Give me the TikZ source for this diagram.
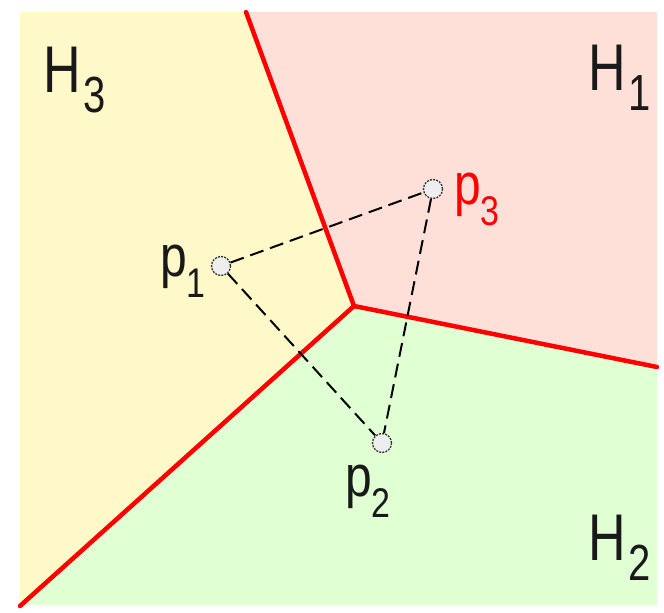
\documentclass[tikz,border=0pt]{standalone}
\usepackage{fontspec}
\setmainfont{Liberation Sans}
\usepackage{graphicx}
\definecolor{yel}{HTML}{FFF8C8}
\definecolor{pnk}{HTML}{FFE0D8}
\definecolor{grn}{HTML}{E0FFD2}
\definecolor{ptfill}{HTML}{EEEEEE}
\newcommand{\Hlab}[1]{\scalebox{1}[1.27]{\fontsize{52}{52}\selectfont H\kern3pt\raisebox{-16.5pt}{\fontsize{40}{40}\selectfont #1}}}
\newcommand{\plab}[1]{\scalebox{1}[1.22]{\fontsize{48}{48}\selectfont p\raisebox{-18pt}{\fontsize{34}{34}\selectfont #1}}}
\begin{document}
\begin{tikzpicture}[x=1pt,y=-1pt,
  bisector/.style={draw=red,line width=4.5pt,line cap=round},
  tri/.style={draw=black,line width=2pt,dash pattern=on 14pt off 7pt},
  pt/.style={circle,draw=black!80,dash pattern=on 2pt off 1.2pt,line width=1.3pt,fill=ptfill,minimum size=19pt,inner sep=0pt},
  lab/.style={anchor=base west,inner sep=0pt,text=black!90}]
\useasboundingbox (0,0) rectangle (664,613);
\coordinate (C) at (354,306);
\coordinate (T) at (246,12);
\coordinate (R) at (657,367);
\coordinate (L) at (20,606);
\fill[yel] (20,12) -- (T) -- (C) -- (L) -- cycle;
\fill[pnk] (T) -- (657,12) -- (R) -- (C) -- cycle;
\fill[grn] (C) -- (R) -- (657,605) -- (20,605) -- (L) -- cycle;
\draw[bisector] (T) -- (C);
\draw[bisector] (C) -- (R);
\draw[bisector] (C) -- (L);
\node[pt] (p1) at (221,266) {};
\node[pt] (p3) at (433,189) {};
\node[pt] (p2) at (382,443) {};
\draw[tri] (p1) -- (p3);
\draw[tri] (p1) -- (p2);
\draw[tri] (p3) -- (p2);
\node[lab] (h3) at (43,92) {\Hlab{3}};
\node[lab] (h1) at (588,90) {\Hlab{1}};
\node[lab] (h2) at (588,560) {\Hlab{2}};
\node[lab] (l1) at (160,276) {\plab{1}};
\node[lab,text=red] (l3) at (454,204) {\plab{3}};
\node[lab] (l2) at (345,496) {\plab{2}};
\end{tikzpicture}
\end{document}
